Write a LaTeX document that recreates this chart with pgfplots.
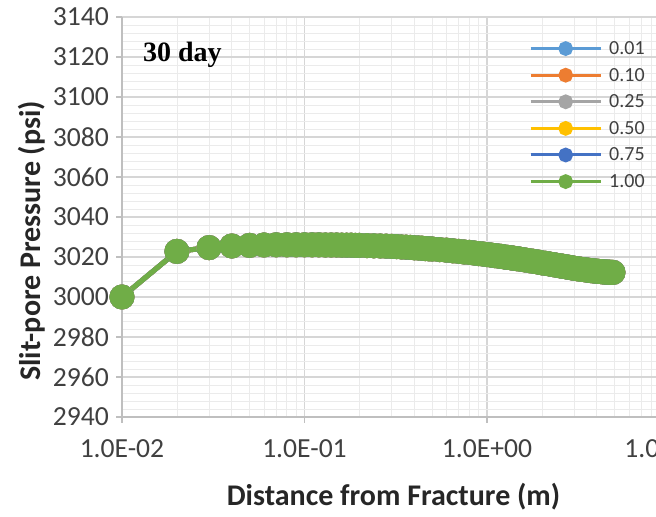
\documentclass[border=0pt]{standalone}
\usepackage{fontspec}
\setmainfont{Carlito}
\newfontfamily\timesf{Liberation Serif}
\usepackage{pgfplots}
\usepackage{pgfplotstable}
\pgfplotsset{compat=1.18}

\definecolor{xblue}{HTML}{5B9BD5}
\definecolor{xorange}{HTML}{ED7D31}
\definecolor{xgray}{HTML}{A5A5A5}
\definecolor{xgold}{HTML}{FFC000}
\definecolor{xdblue}{HTML}{4472C4}
\definecolor{xgreen}{HTML}{70AD47}

% pressure along the slit pore, 30 days (all six cases coincide)
\pgfplotstableread{
x y
0.01 3000.0
0.02 3022.8
0.03 3024.7
0.04 3025.5
0.05 3025.8
0.06 3026.0
0.07 3026.1
0.08 3026.1
0.09 3026.1
0.10 3026.1
0.11 3026.1
0.12 3026.1
0.13 3026.0
0.14 3026.0
0.15 3026.0
0.16 3025.9
0.17 3025.9
0.18 3025.9
0.19 3025.8
0.20 3025.8
0.22 3025.7
0.24 3025.6
0.26 3025.5
0.28 3025.4
0.30 3025.3
0.32 3025.2
0.34 3025.0
0.36 3024.9
0.38 3024.8
0.40 3024.6
0.42 3024.5
0.44 3024.4
0.46 3024.2
0.48 3024.1
0.50 3024.0
0.55 3023.7
0.60 3023.4
0.65 3023.1
0.70 3022.8
0.75 3022.5
0.80 3022.3
0.85 3022.0
0.90 3021.7
0.95 3021.5
1.00 3021.2
1.05 3021.0
1.10 3020.7
1.15 3020.5
1.20 3020.3
1.25 3020.0
1.30 3019.8
1.35 3019.6
1.40 3019.4
1.45 3019.2
1.50 3019.0
1.60 3018.6
1.70 3018.2
1.80 3017.8
1.90 3017.5
2.00 3017.1
2.10 3016.8
2.20 3016.5
2.30 3016.2
2.40 3015.9
2.50 3015.6
2.60 3015.4
2.70 3015.1
2.80 3014.9
2.90 3014.6
3.00 3014.4
3.10 3014.2
3.20 3014.0
3.30 3013.8
3.40 3013.7
3.50 3013.5
3.60 3013.4
3.70 3013.2
3.80 3013.1
3.90 3013.0
4.00 3012.9
4.10 3012.8
4.20 3012.7
4.30 3012.6
4.40 3012.5
4.50 3012.5
4.60 3012.4
4.70 3012.4
4.80 3012.3
4.90 3012.3
}\pdata

\begin{document}
\begin{tikzpicture}
\begin{axis}[
    scale only axis, width=273.75pt, height=200pt,
    at={(0,0)}, anchor=south west,
    xmode=log, xmin=0.01, xmax=10, ymin=2940, ymax=3140,
    xtick={0.01,0.1,1,10},
    xticklabels={1.0E-02,1.0E-01,1.0E+00,1.0E+01},
    ytick={2940,2960,...,3140}, minor y tick num=4,
    axis x line*=bottom, axis y line*=left,
    axis line style={draw=black!25, line width=0.8pt},
    tick align=outside, major tick length=3pt, minor tick length=0pt,
    tick style={draw=black!25, line width=0.6pt},
    grid=both,
    major grid style={draw=black!16, line width=0.6pt},
    minor grid style={draw=black!8, line width=0.4pt},
    tick label style={font=\fontsize{13.8}{14}\selectfont, text=black!75},
    xticklabel style={yshift=-5pt},
    /pgf/number format/1000 sep={},
    /pgf/number format/assume math mode=true,
    xlabel={Distance from Fracture (m)},
    ylabel={Slit-pore Pressure (psi)},
    label style={font=\bfseries\fontsize{15}{15}\selectfont, text=black!85},
    xlabel style={at={(axis description cs:0.496,-0.2)}, anchor=center},
    ylabel style={at={(axis description cs:-0.164,0.44)}, anchor=center},
    legend style={at={(rel axis cs:0.743,0.942)}, anchor=north west,
      draw=none, fill=none, inner sep=0pt, row sep=5.3pt,
      font=\fontsize{10}{10}\selectfont, text=black!75,
      nodes={inner sep=0pt, text height=7pt, text depth=1pt}},
    legend cell align=left,
    legend image code/.code={
      \draw[line width=1.5pt] (0pt,0pt) -- (35pt,0pt);
      \fill (17.5pt,0pt) circle (2.4pt);
      \path (38pt,0pt);
    },
    every axis plot/.append style={line width=2.5pt, mark=*, mark size=5pt},
  ]
  \addplot[color=xblue] table[x=x,y=y] {\pdata};
  \addlegendentry{0.01}
  \addplot[color=xorange] table[x=x,y=y] {\pdata};
  \addlegendentry{0.10}
  \addplot[color=xgray] table[x=x,y=y] {\pdata};
  \addlegendentry{0.25}
  \addplot[color=xgold] table[x=x,y=y] {\pdata};
  \addlegendentry{0.50}
  \addplot[color=xdblue] table[x=x,y=y] {\pdata};
  \addlegendentry{0.75}
  \addplot[color=xgreen] table[x=x,y=y] {\pdata};
  \addlegendentry{1.00}
  \node[anchor=base west, font=\timesf\bfseries\fontsize{14}{14}\selectfont]
    at (rel axis cs:0.0256,0.8875) {30 day};
\end{axis}
\pgfresetboundingbox
\path[use as bounding box] (-61pt,-50pt) rectangle (267pt,208.5pt);
\end{tikzpicture}
\end{document}
